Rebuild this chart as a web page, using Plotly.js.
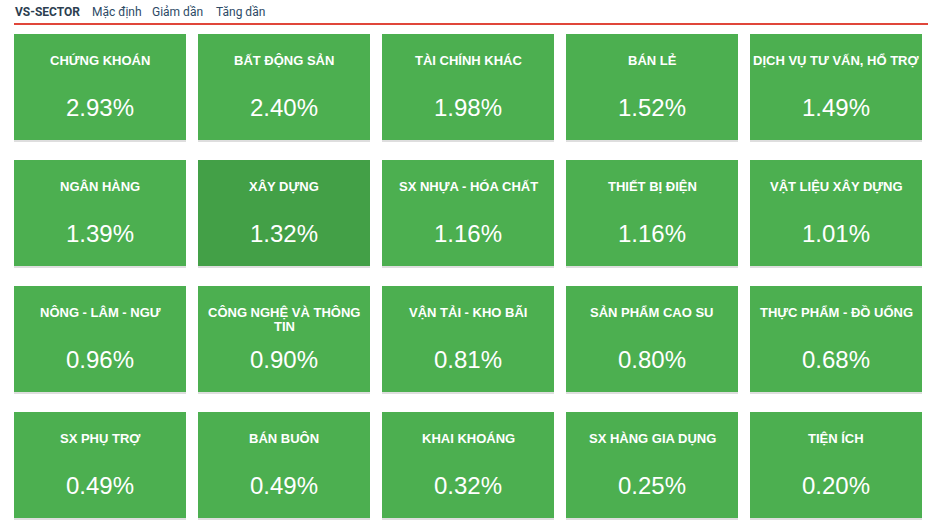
<!DOCTYPE html>
<html>
<head>
<meta charset="utf-8">
<script src="https://cdn.plot.ly/plotly-3.0.1.min.js"></script>
<style>
  html, body { margin: 0; padding: 0; background: #ffffff; }
  #chart { width: 928px; height: 532px; }
</style>
</head>
<body>
<div id="chart"></div>
<script>
// ---- data ----
const headerTitle = "VS-SECTOR";
const sortOptions = ["Mặc định", "Giảm dần", "Tăng dần"];
const sectorNames = [
  "CHỨNG KHOÁN", "BẤT ĐỘNG SẢN", "TÀI CHÍNH KHÁC", "BÁN LẺ", "DỊCH VỤ TƯ VẤN, HỔ TRỢ",
  "NGÂN HÀNG", "XÂY DỰNG", "SX NHỰA - HÓA CHẤT", "THIẾT BỊ ĐIỆN", "VẬT LIỆU XÂY DỰNG",
  "NÔNG - LÂM - NGƯ", "CÔNG NGHỆ VÀ THÔNG TIN", "VẬN TẢI - KHO BÃI", "SẢN PHẨM CAO SU", "THỰC PHẨM - ĐỒ UỐNG",
  "SX PHỤ TRỢ", "BÁN BUÔN", "KHAI KHOÁNG", "SX HÀNG GIA DỤNG", "TIỆN ÍCH"
];
const sectorChanges = [
  2.93, 2.40, 1.98, 1.52, 1.49,
  1.39, 1.32, 1.16, 1.16, 1.01,
  0.96, 0.90, 0.81, 0.80, 0.68,
  0.49, 0.49, 0.32, 0.25, 0.20
];
const highlightedSector = "XÂY DỰNG";

// ---- layout constants ----
const NCOLS = 5;
const NROWS = Math.ceil(sectorNames.length / NCOLS);
const W = 928, H = 532;
const M = { l: 8, r: 0, t: 24, b: 2 };
const plotH = H - M.t - M.b;
const gridH = 504;
const shadowOffset = 2;

const titleFont = "bold 13px 'Liberation Sans'";
const ctx = document.createElement("canvas").getContext("2d");
ctx.font = titleFont;
function wrapText(txt, maxW) {
  const words = txt.split(" ");
  const lines = [];
  let cur = "";
  words.forEach(w => {
    const test = cur ? cur + " " + w : w;
    if (ctx.measureText(test).width > maxW && cur) { lines.push(cur); cur = w; }
    else cur = test;
  });
  if (cur) lines.push(cur);
  return lines;
}

const xs = [...Array(NCOLS).keys()];
const ys = [...Array(NROWS).keys()];
const zMain = ys.map(r => xs.map(c => {
  const i = r * NCOLS + c;
  return sectorNames[i] === highlightedSector ? 1 : 0;
}));
const zShadow = ys.map(r => xs.map(c => 0));

const traces = [
  {
    type: "heatmap", x: xs, y: ys, z: zShadow,
    xaxis: "x", yaxis: "y",
    colorscale: [[0, "#dedede"], [1, "#dedede"]], zmin: 0, zmax: 1,
    xgap: 12, ygap: 20, showscale: false, hoverinfo: "skip"
  },
  {
    type: "heatmap", x: xs, y: ys, z: zMain,
    xaxis: "x2", yaxis: "y2",
    colorscale: [[0, "#4caf50"], [0.5, "#4caf50"], [0.5, "#43a047"], [1, "#43a047"]],
    zmin: 0, zmax: 1,
    xgap: 12, ygap: 20, showscale: false, hoverinfo: "skip"
  }
];

const annotations = [];
sectorNames.forEach((name, i) => {
  const c = i % NCOLS, r = Math.floor(i / NCOLS);
  const lines = wrapText(name, 170);
  lines.forEach((ln, k) => {
    annotations.push({
      x: c, y: r, xref: "x2", yref: "y2", text: "<b>" + ln + "</b>",
      showarrow: false, xanchor: "center", yanchor: "middle",
      yshift: 27 - k * 14,
      font: { family: "Liberation Sans, Arial, sans-serif", size: 13, color: "#ffffff" }
    });
  });
  annotations.push({
    x: c, y: r, xref: "x2", yref: "y2", text: sectorChanges[i].toFixed(2) + "%",
    showarrow: false, xanchor: "center", yanchor: "middle",
    yshift: -20,
    font: { family: "Liberation Sans, Arial, sans-serif", size: 24, color: "#ffffff" }
  });
});

// header
const headerX = [13, 90, 150, 214];
const headerTexts = ["<b>" + headerTitle + "</b>"].concat(sortOptions);
const headerColors = ["#2c3e50", "#2d4a66", "#2d4a66", "#2d4a66"];
headerTexts.forEach((t, k) => {
  annotations.push({
    x: (headerX[k] - M.l) / (W - M.l - M.r), y: 1 + (M.t - 12) / plotH,
    xref: "paper", yref: "paper", text: t, showarrow: false,
    xanchor: "left", yanchor: "middle",
    font: { family: "Roboto, Liberation Sans, sans-serif", size: 12, color: headerColors[k] }
  });
});

const mainDomain = [(plotH - gridH) / plotH, 1];
const shadowDomain = [(plotH - gridH - shadowOffset) / plotH, 1 - shadowOffset / plotH];

const axBase = { showgrid: false, zeroline: false, showticklabels: false, ticks: "", showline: false, fixedrange: true };
const layout = {
  width: W, height: H,
  margin: M,
  paper_bgcolor: "#ffffff", plot_bgcolor: "rgba(0,0,0,0)",
  showlegend: false,
  xaxis: Object.assign({}, axBase, { range: [-0.5, NCOLS - 0.5], domain: [0, 1], anchor: "y" }),
  yaxis: Object.assign({}, axBase, { range: [NROWS - 0.5, -0.5], domain: shadowDomain, anchor: "x" }),
  xaxis2: Object.assign({}, axBase, { range: [-0.5, NCOLS - 0.5], domain: [0, 1], anchor: "y2" }),
  yaxis2: Object.assign({}, axBase, { range: [NROWS - 0.5, -0.5], domain: mainDomain, anchor: "x2" }),
  shapes: [{
    type: "line", xref: "paper", yref: "paper",
    x0: (14 - M.l) / (W - M.l - M.r), x1: 1, y0: 1, y1: 1,
    line: { color: "#e0463a", width: 2 }
  }],
  annotations: annotations
};

Plotly.newPlot("chart", traces, layout, { displayModeBar: false, staticPlot: true });
</script>
</body>
</html>
